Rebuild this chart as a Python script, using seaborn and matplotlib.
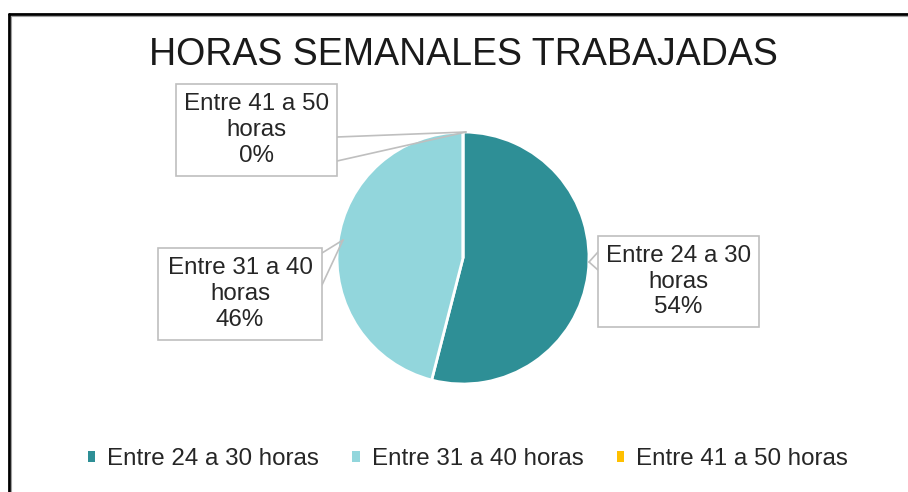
import matplotlib
matplotlib.use("Agg")
import matplotlib.pyplot as plt
import seaborn as sns
from matplotlib.patches import Rectangle, Patch
from matplotlib.lines import Line2D

categories=["Entre 24 a 30 horas","Entre 31 a 40 horas","Entre 41 a 50 horas"]
values=[54,46,0]
title="HORAS SEMANALES TRABAJADAS"

sns.set_theme(style="white")
plt.rcParams["font.family"]=["Liberation Sans","DejaVu Sans"]

colors=sns.color_palette(["#2E8F96","#92D6DC","#FFC000"])

W,H=908,492

# pixel layout helpers (y measured from top)
def Y(y):
    return H-y

fig=plt.figure(figsize=(W/100,H/100),dpi=100)
ax=fig.add_axes([0,0,1,1])

ax.pie(values,colors=colors,startangle=90,counterclock=False,
       center=(463,Y(258)),radius=126,
       wedgeprops=dict(edgecolor="white",linewidth=2))
ax.set_xlim(0,W)
ax.set_ylim(0,H)
ax.set_aspect("equal")
ax.axis("off")

ax.text(463,Y(55),title,ha="center",va="center",fontsize=27,color="#1a1a1a")

# callout boxes: (x0, y0, x1, y1) in pixels and leader lines
boxes=[(598,236,759,327),(158,248,322,340),(176,84,337,176)]
leaders=[
    [((598,252),(589,262)),((598,270),(589,262))],
    [((322,253),(343,240)),((322,285),(343,240))],
    [((337,137),(466,132)),((337,161),(466,132))],
]
total=sum(values)
for i,(cat,v) in enumerate(zip(categories,values)):
    x0,y0,x1,y1=boxes[i]
    ax.add_patch(Rectangle((x0,Y(y1)),x1-x0,y1-y0,facecolor="white",
                           edgecolor="#BFBFBF",linewidth=1.2,zorder=3))
    name=cat.rsplit(" ",1)
    label=f"{name[0]}\n{name[1]}\n{v/total*100:.0f}%"
    ax.text((x0+x1)/2,Y((y0+y1)/2),label,ha="center",va="center",
            fontsize=17.4,linespacing=1.22,color="#262626",zorder=4)
    for (a,b) in leaders[i]:
        ax.plot([a[0],b[0]],[Y(a[1]),Y(b[1])],color="#BFBFBF",lw=1.2,zorder=2)

handles=[Patch(facecolor=c,edgecolor="none") for c in colors]
ax.legend(handles,categories,loc="center",bbox_to_anchor=(468/W,Y(459)/H),
          ncol=3,frameon=False,fontsize=17.4,handlelength=0.3,handleheight=0.3,
          handletextpad=0.5,columnspacing=1.38,labelcolor="#262626")

# chart frame (top and left edges visible)
fig.add_artist(Line2D([9/W,1],[Y(14)/H,Y(14)/H],color="black",lw=2))
fig.add_artist(Line2D([9/W,9/W],[Y(14)/H,0],color="black",lw=2))
fig.add_artist(Line2D([11/W,1],[Y(16)/H,Y(16)/H],color="#A0A0A0",lw=0.8))
fig.add_artist(Line2D([11/W,11/W],[Y(16)/H,0],color="#A0A0A0",lw=0.8))

fig.savefig("out.png",dpi=100)
plt.close(fig)
